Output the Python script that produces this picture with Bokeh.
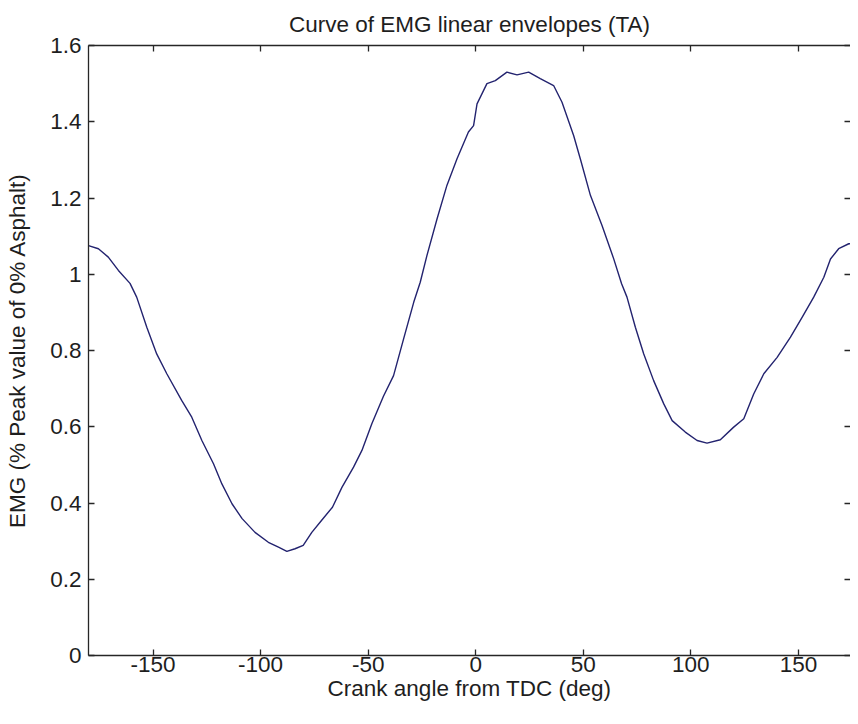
from bokeh.plotting import figure
from bokeh.models import LinearAxis, FixedTicker, Range1d
from bokeh.embed import file_html
from bokeh.resources import INLINE

# Crank angle (deg) and EMG linear envelope (% peak value of 0% asphalt)
angle = [-180, -175.4, -170.8, -166.1, -160.7, -157.6, -152.9, -148.3, -143.6,
         -136.7, -132.0, -127.3, -121.9, -118.0, -113.3, -108.6, -102.6, -96.4,
         -91.7, -87.8, -84.0, -80.2, -76.2, -71.7, -66.6, -62.2, -56.8, -52.9,
         -48.3, -42.9, -38.2, -33.5, -28.8, -25.8, -22.7, -18.0, -13.4, -8.7,
         -3.4, -1.0, 0.6, 5.2, 9.1, 14.5, 19.2, 24.6, 30.0, 36.2, 40.1, 45.5,
         48.6, 53.3, 58.7, 64.1, 67.8, 70.3, 74.2, 78.1, 82.7, 87.4, 91.3, 97.4,
         102.9, 107.5, 113.7, 119.9, 124.6, 129.2, 133.9, 140.1, 146.3, 151.7,
         157.1, 161.8, 164.9, 168.7, 173.4, 177.9, 180]
emg = [1.075, 1.067, 1.045, 1.010, 0.976, 0.940, 0.861, 0.791, 0.739,
       0.669, 0.625, 0.564, 0.503, 0.450, 0.398, 0.359, 0.323, 0.297,
       0.284, 0.273, 0.280, 0.289, 0.323, 0.354, 0.389, 0.441, 0.494, 0.538,
       0.608, 0.680, 0.734, 0.831, 0.927, 0.979, 1.049, 1.145, 1.233, 1.303,
       1.373, 1.390, 1.447, 1.500, 1.508, 1.530, 1.523, 1.530, 1.513, 1.495, 1.451, 1.364,
       1.303, 1.207, 1.128, 1.041, 0.975, 0.940, 0.861, 0.791, 0.721, 0.660, 0.616, 0.586,
       0.564, 0.557, 0.566, 0.599, 0.621, 0.686, 0.739, 0.782, 0.835, 0.887,
       0.940, 0.992, 1.040, 1.067, 1.080, 1.080, 1.080]

x_ticks = [-150, -100, -50, 0, 50, 100, 150]
x_tick_labels = ["-150", "-100", "-50", "0", "50", "100", "150"]
y_ticks = [0, 0.2, 0.4, 0.6, 0.8, 1.0, 1.2, 1.4, 1.6]
y_tick_labels = ["0", "0.2", "0.4", "0.6", "0.8", "1", "1.2", "1.4", "1.6"]

FONT = "Liberation Sans"
FS = "22.5px"
TXT = "#1e1e1e"
AX = "#262626"

p = figure(width=850, height=716, output_backend="svg", toolbar_location=None,
           x_range=Range1d(-180, 174.2), y_range=Range1d(0, 1.6),
           x_axis_location=None, y_axis_location=None,
           min_border_left=88, min_border_right=0, min_border_top=45,
           min_border_bottom=61, title="Curve of EMG linear envelopes (TA)")
p.outline_line_color = None
p.grid.visible = False
p.background_fill_color = "white"
p.border_fill_color = "white"

p.title.align = "center"
p.title.vertical_align = "top"
p.title.text_font = FONT
p.title.text_font_size = FS
p.title.text_font_style = "normal"
p.title.text_color = TXT
p.title.standoff = 14

p.line(angle, emg, line_color="#23236f", line_width=1.4)

def style(ax, labels=True):
    ax.axis_line_color = AX
    ax.axis_line_width = 1.3
    ax.major_tick_line_color = AX
    ax.major_tick_line_width = 1.3
    ax.major_tick_in = 6
    ax.major_tick_out = 0
    ax.minor_tick_in = 0
    ax.minor_tick_out = 0
    ax.major_label_text_font = FONT
    ax.major_label_text_font_size = FS if labels else "1px"
    ax.major_label_text_color = TXT if labels else None
    ax.axis_label_text_font = FONT
    ax.axis_label_text_font_size = FS
    ax.axis_label_text_font_style = "normal"
    ax.axis_label_text_color = TXT

xb = LinearAxis(ticker=FixedTicker(ticks=x_ticks), axis_label="Crank angle from TDC (deg)")
style(xb)
xb.major_label_overrides = {t: l for t, l in zip(x_ticks, x_tick_labels)}
xb.major_label_standoff = 1
xb.axis_label_standoff = 1
p.add_layout(xb, "below")

yl = LinearAxis(ticker=FixedTicker(ticks=y_ticks),
                axis_label="EMG (% Peak value of 0% Asphalt)")
style(yl)
yl.major_label_overrides = {t: l for t, l in zip(y_ticks, y_tick_labels)}
yl.major_label_standoff = 7
yl.axis_label_standoff = 17
p.add_layout(yl, "left")

xt = LinearAxis(ticker=FixedTicker(ticks=x_ticks))
style(xt, labels=False)
xt.major_label_standoff = 0
p.add_layout(xt, "above")

yr = LinearAxis(ticker=FixedTicker(ticks=y_ticks))
style(yr, labels=False)
yr.axis_line_color = None
yr.major_label_standoff = 0
p.add_layout(yr, "right")

open("out.html", "w").write(file_html(p, INLINE))
